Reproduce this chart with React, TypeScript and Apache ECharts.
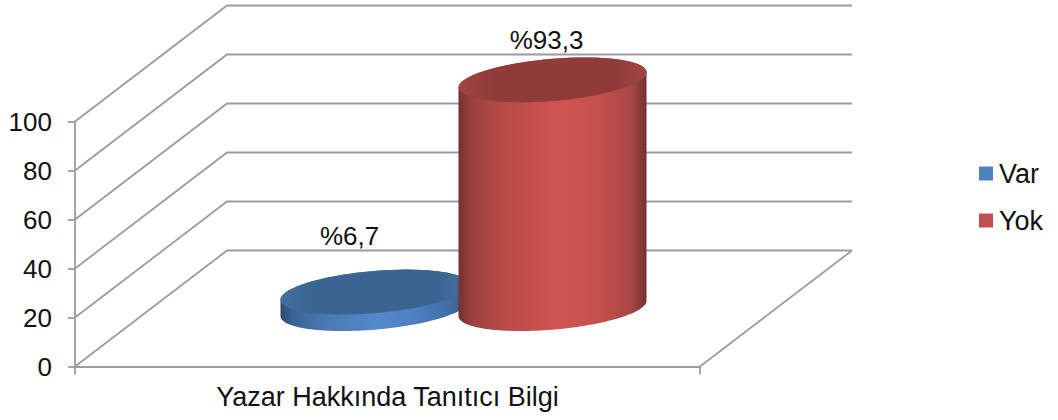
import React, { useEffect, useRef } from "react";
import * as echarts from "echarts";

const categories = ["Yazar Hakkında Tanıtıcı Bilgi"];
const seriesNames = ["Var", "Yok"];
const varValues = [6.7];
const yokValues = [93.3];
const valueLabels = ["%6,7", "%93,3"];
const yTicks = [0, 20, 40, 60, 80, 100];

const FONT = '"Liberation Sans", Arial, sans-serif';
const GRID_COLOR = "#9c9c9c";
const LINE_WIDTH = 1.8;
const DEPTH_X = 152;
const DEPTH_Y = 116;
const RADIUS_X = 88.4;
const SKEW_X = 32;
const RADIUS_Y = 22.5;
const BAR_SHIFT = 89;

const palette = [
  {
    legend: "#4f81bd",
    side: ["#2b4a70", "#3b6494", "#4a7ab5", "#5389cb", "#4c80bf", "#3f6ba0", "#2e4f78"],
    top: ["#44709f", "#3c6491", "#3c6491", "#44709f"],
  },
  {
    legend: "#c0504d",
    side: ["#753230", "#9a403e", "#b94b48", "#cf5552", "#c8514e", "#a84644", "#753130"],
    top: ["#a04543", "#8f3b39", "#8f3b39", "#a04543"],
  },
];
const stops = [0, 0.07, 0.25, 0.52, 0.72, 0.92, 1];
const labelOffsets = [
  [-25, -56],
  [-6, -40],
];

function gradient(colors: string[], offsets: number[]) {
  return new echarts.graphic.LinearGradient(
    0,
    0,
    1,
    0,
    colors.map((color, i) => ({ offset: offsets[i], color }))
  );
}

function ellipsePoint(cx: number, cy: number, t: number) {
  return [
    cx + RADIUS_X * Math.cos(t) + SKEW_X * Math.sin(t),
    cy - RADIUS_Y * Math.sin(t),
  ];
}

function arc(cx: number, cy: number, from: number, to: number) {
  const pts: number[][] = [];
  const n = 72;
  for (let i = 0; i <= n; i++) {
    pts.push(ellipsePoint(cx, cy, from + ((to - from) * i) / n));
  }
  return pts;
}

function cylinder(index: number) {
  return (params: any, api: any) => {
    const base = api.coord([api.value(0), 0]);
    const tip = api.coord([api.value(0), api.value(1)]);
    const sign = index === 0 ? -1 : 1;
    const cx = base[0] + DEPTH_X / 2 + sign * BAR_SHIFT;
    const yBase = base[1] - DEPTH_Y / 2;
    const yTop = tip[1] - DEPTH_Y / 2;
    const t0 = Math.atan2(SKEW_X, RADIUS_X);
    const sidePts = [
      ...arc(cx, yBase, t0 - Math.PI, t0),
      ...arc(cx, yTop, t0, t0 + Math.PI),
    ];
    const colors = palette[index];
    return {
      type: "group",
      children: [
        {
          type: "polygon",
          shape: { points: sidePts },
          style: { fill: gradient(colors.side, stops) },
        },
        {
          type: "polygon",
          shape: { points: arc(cx, yTop, 0, Math.PI * 2) },
          style: { fill: gradient(colors.top, [0, 0.18, 0.82, 1]) },
        },
        {
          type: "text",
          x: cx + labelOffsets[index][0],
          y: yTop + labelOffsets[index][1],
          style: {
            text: valueLabels[index],
            font: `26px ${FONT}`,
            fill: "#111",
            align: "center",
            verticalAlign: "middle",
          },
        },
      ],
    };
  };
}

function wall(params: any, api: any) {
  const rect = params.coordSys;
  const tick = api.value(1);
  const y = api.coord([0, tick])[1];
  const left = rect.x;
  const right = rect.x + rect.width;
  const lineStyle = { stroke: GRID_COLOR, lineWidth: LINE_WIDTH, fill: "none" };
  const children: any[] = [
    {
      type: "polyline",
      shape: {
        points: [
          [left, y],
          [left + DEPTH_X, y - DEPTH_Y],
          [right + DEPTH_X, y - DEPTH_Y],
        ],
      },
      style: lineStyle,
    },
  ];
  if (tick === 0) {
    children.push({
      type: "line",
      shape: { x1: right, y1: y, x2: right + DEPTH_X, y2: y - DEPTH_Y },
      style: lineStyle,
    });
  }
  return { type: "group", children };
}

export default function App() {
  const ref = useRef<HTMLDivElement>(null);
  useEffect(() => {
    document.body.style.margin = "0";
    const chart = echarts.init(ref.current!, null, { renderer: "svg" });
    chart.setOption({
      animation: false,
      backgroundColor: "#fff",
      textStyle: { fontFamily: FONT },
      grid: { left: 75, width: 625, top: 121.5, height: 245 },
      legend: {
        orient: "vertical",
        left: 979,
        top: 160,
        itemWidth: 14,
        itemHeight: 14,
        itemGap: 20,
        padding: 0,
        selectedMode: false,
        textStyle: { fontFamily: FONT, fontSize: 27, color: "#111", lineHeight: 26, padding: [0, 0, 0, 1] },
        data: seriesNames.map((name, i) => ({
          name,
          icon: "rect",
          itemStyle: { color: palette[i].legend },
        })),
      },
      xAxis: {
        type: "category",
        data: categories,
        axisLine: { lineStyle: { color: GRID_COLOR, width: LINE_WIDTH } },
        axisTick: { show: true, length: 8, lineStyle: { color: GRID_COLOR, width: LINE_WIDTH } },
        axisLabel: { fontFamily: FONT, fontSize: 27, color: "#111", margin: 17 },
      },
      yAxis: {
        type: "value",
        min: 0,
        max: 100,
        interval: 20,
        splitLine: { show: false },
        axisLine: { show: true, lineStyle: { color: GRID_COLOR, width: LINE_WIDTH } },
        axisTick: { show: true, length: 7, lineStyle: { color: GRID_COLOR, width: LINE_WIDTH } },
        axisLabel: { fontFamily: FONT, fontSize: 26, color: "#111", margin: 23 },
      },
      series: [
        {
          type: "custom",
          name: "Duvar",
          silent: true,
          renderItem: wall,
          data: yTicks.map((t) => [0, t]),
          encode: { x: 0, y: 1 },
          z: 1,
        },
        {
          type: "custom",
          name: seriesNames[0],
          renderItem: cylinder(0),
          data: varValues.map((v, i) => [i, v]),
          encode: { x: 0, y: 1 },
          itemStyle: { color: palette[0].legend },
          z: 2,
        },
        {
          type: "custom",
          name: seriesNames[1],
          renderItem: cylinder(1),
          data: yokValues.map((v, i) => [i, v]),
          encode: { x: 0, y: 1 },
          itemStyle: { color: palette[1].legend },
          z: 3,
        },
      ],
    });
    return () => chart.dispose();
  }, []);
  return <div ref={ref} style={{ width: 1058, height: 420 }} />;
}
